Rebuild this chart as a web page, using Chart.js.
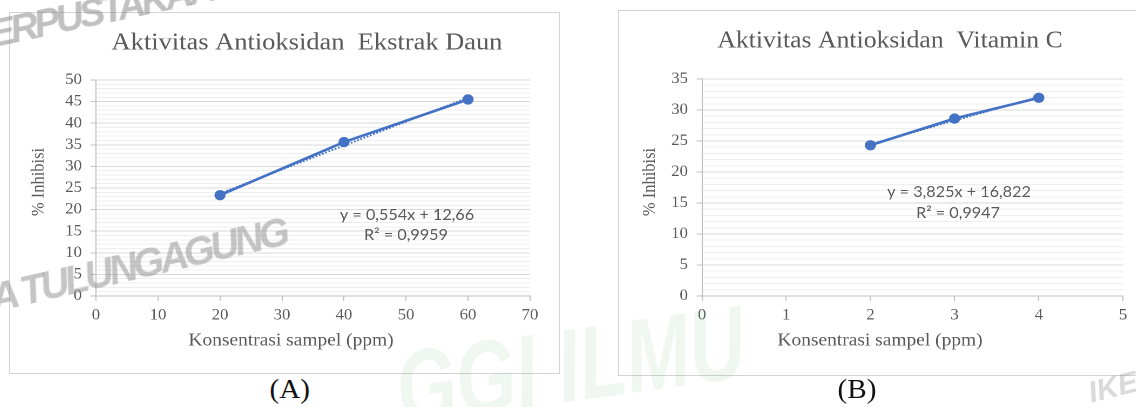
<!DOCTYPE html>
<html>
<head>
<meta charset="utf-8">
<script src="https://cdn.jsdelivr.net/npm/chart.js@4.4.1/dist/chart.umd.min.js"></script>
<style>
  html, body { margin: 0; padding: 0; background: #fff; }
  body { width: 1136px; height: 407px; overflow: hidden; position: relative; font-family: "Liberation Serif", serif; }
  .frame { position: absolute; border: 1.5px solid #d3d3d3; box-sizing: border-box; background: #fff; }
  canvas.plot { position: absolute; transform-origin: 0 0; }
  .caption { position: absolute; font-family: "Liberation Serif", serif; font-size: 27px; color: #111; transform-origin: 50% 50%; white-space: nowrap; }
  .mark { position: absolute; white-space: nowrap; pointer-events: none; font-family: "Liberation Sans", sans-serif; font-weight: bold; font-style: italic; }
</style>
</head>
<body>
<div class="frame" style="left:9px; top:12px; width:551px; height:362px;"></div>
<div class="frame" style="left:618px; top:10px; width:540px; height:366px;"></div>
<canvas id="chartDaun" class="plot"></canvas>
<canvas id="chartVitC" class="plot"></canvas>
<div class="caption" id="capA">(A)</div>
<div class="caption" id="capB">(B)</div>

<div class="mark" style="left:-28px; top:17px; font-size:39px; letter-spacing:-4px; color:rgba(140,140,140,0.55); transform:rotate(-12deg); transform-origin:0 100%;">PERPUSTAKAAN</div>
<div class="mark" style="left:-4px; top:276px; font-size:40px; letter-spacing:-4px; color:rgba(140,140,140,0.5); transform:rotate(-13deg); transform-origin:0 100%;">A TULUNGAGUNG</div>
<div class="mark" style="left:405px; top:330px; font-size:104px; color:rgba(120,180,120,0.11); transform:rotate(-8deg) scaleX(0.74); transform-origin:0 100%;">GGI ILMU</div>
<div class="mark" style="left:1088px; top:370px; font-size:30px; color:rgba(150,150,150,0.35); transform:rotate(-14deg);">IKE</div>

<script>
// Horizontal stretch applied to the plotted figure
const SX = 1.08;

// Leaf extract: concentration (ppm) vs % inhibition
const konsentrasiDaun = [20, 40, 60];
const inhibisiDaun = [23.33, 35.64, 45.49];
const slopeDaun = 0.554;
const interceptDaun = 12.66;
const r2Daun = 0.9959;
const xTicksDaun = [0, 10, 20, 30, 40, 50, 60, 70];
const yTicksDaun = [0, 5, 10, 15, 20, 25, 30, 35, 40, 45, 50];

// Vitamin C: concentration (ppm) vs % inhibition
const konsentrasiVitC = [2, 3, 4];
const inhibisiVitC = [24.31, 28.62, 31.96];
const slopeVitC = 3.825;
const interceptVitC = 16.822;
const r2VitC = 0.9947;
const xTicksVitC = [0, 1, 2, 3, 4, 5];
const yTicksVitC = [0, 5, 10, 15, 20, 25, 30, 35];

const BLUE = '#4472C4';
const TEXT = '#595959';
const SERIF = '"Liberation Serif", "Times New Roman", serif';
const SANS = 'Lato, "Open Sans", sans-serif';

const comma = v => String(v).replace('.', ',');

// Free text (titles, axis titles, regression equation) placed in page coordinates
const textPlugin = {
  id: 'freeText',
  afterDraw(chart, args, opts) {
    const ctx = chart.ctx;
    const box = opts.box;
    (opts.items || []).forEach(it => {
      ctx.save();
      ctx.font = it.font;
      ctx.fillStyle = it.color || TEXT;
      ctx.textAlign = 'center';
      ctx.textBaseline = 'middle';
      ctx.translate((it.x - box.x) / SX, it.y - box.y);
      if (it.rotate) ctx.rotate(it.rotate);
      ctx.fillText(it.text, 0, 0);
      ctx.restore();
    });
  }
};

function buildChart(id, cfg) {
  const canvas = document.getElementById(id);
  const box = cfg.box, plot = cfg.plot;
  const W = Math.round(box.w / SX), H = box.h;
  canvas.width = W;
  canvas.height = H;
  canvas.style.left = box.x + 'px';
  canvas.style.top = box.y + 'px';
  canvas.style.transform = 'scaleX(' + SX + ')';

  const L = (plot.l - box.x) / SX, R = (plot.r - box.x) / SX;
  const T = plot.t - box.y, B = plot.b - box.y;

  const xs = cfg.x, ys = cfg.y;
  const xT = cfg.xTicks, yT = cfg.yTicks;
  const yMajor = yT[1] - yT[0];

  const trend = [xs[0], xs[xs.length - 1]].map(v => ({ x: v, y: cfg.slope * v + cfg.intercept }));
  const points = xs.map((v, i) => ({ x: v, y: ys[i] }));

  const tickFont = { family: SERIF, size: 15.5 };

  return new Chart(canvas.getContext('2d'), {
    type: 'scatter',
    data: {
      datasets: [
        { data: trend, showLine: true, borderColor: BLUE, borderWidth: 1.8, borderDash: [1.6, 1.6], pointRadius: 0 },
        { data: points, showLine: true, borderColor: BLUE, borderWidth: 2.6, pointRadius: 5.2,
          pointBackgroundColor: BLUE, pointBorderColor: BLUE, pointBorderWidth: 0 }
      ]
    },
    options: {
      responsive: false,
      animation: false,
      devicePixelRatio: 2,
      events: [],
      layout: { padding: { left: 0, top: T, right: W - R, bottom: 0 } },
      plugins: {
        legend: { display: false },
        tooltip: { enabled: false },
        freeText: {
          box: box,
          items: cfg.texts
        }
      },
      scales: {
        x: {
          type: 'linear',
          min: xT[0], max: xT[xT.length - 1],
          afterFit: s => { s.height = H - B; },
          ticks: { stepSize: xT[1] - xT[0], font: tickFont, color: TEXT, padding: 5, autoSkip: false, maxRotation: 0, maxTicksLimit: 1000 },
          grid: { drawOnChartArea: false, drawTicks: true, tickLength: 5, tickColor: '#bfbfbf' },
          border: { color: '#bfbfbf', width: 1 }
        },
        y: {
          type: 'linear',
          min: yT[0], max: yT[yT.length - 1],
          afterFit: s => { s.width = L; },
          ticks: {
            stepSize: 1, autoSkip: false, maxTicksLimit: 1000, font: tickFont, color: TEXT, padding: 8,
            callback: v => (yT.includes(v) ? v : '')
          },
          grid: {
            drawTicks: true, tickLength: 5,
            color: c => (c.tick && c.tick.value % yMajor === 0 ? '#d9d9d9' : '#eeeeee'),
            tickColor: c => (c.tick && c.tick.value % yMajor === 0 ? '#bfbfbf' : 'rgba(0,0,0,0)'),
            lineWidth: 1
          },
          border: { color: '#bfbfbf', width: 1 }
        }
      }
    },
    plugins: [textPlugin]
  });
}

buildChart('chartDaun', {
  box: { x: 9, y: 12, w: 550, h: 361 },
  plot: { l: 96, r: 530, t: 80, b: 296 },
  x: konsentrasiDaun, y: inhibisiDaun,
  slope: slopeDaun, intercept: interceptDaun,
  xTicks: xTicksDaun, yTicks: yTicksDaun,
  texts: [
    { text: 'Aktivitas Antioksidan  Ekstrak Daun', x: 307, y: 43, font: '24.5px ' + SERIF },
    { text: '% Inhibisi', x: 39, y: 182, font: '16.5px ' + SERIF, rotate: -Math.PI / 2 },
    { text: 'Konsentrasi sampel (ppm)', x: 291, y: 341, font: '18px ' + SERIF },
    { text: 'y = ' + comma(slopeDaun) + 'x + ' + comma(interceptDaun), x: 407, y: 215, font: '15px ' + SANS },
    { text: 'R\u00b2 = ' + comma(r2Daun), x: 406, y: 235, font: '15px ' + SANS }
  ]
});

buildChart('chartVitC', {
  box: { x: 618, y: 10, w: 540, h: 365 },
  plot: { l: 702, r: 1123, t: 79, b: 296 },
  x: konsentrasiVitC, y: inhibisiVitC,
  slope: slopeVitC, intercept: interceptVitC,
  xTicks: xTicksVitC, yTicks: yTicksVitC,
  texts: [
    { text: 'Aktivitas Antioksidan  Vitamin C', x: 890, y: 41, font: '23.8px ' + SERIF },
    { text: '% Inhibisi', x: 650, y: 182, font: '16.5px ' + SERIF, rotate: -Math.PI / 2 },
    { text: 'Konsentrasi sampel (ppm)', x: 880, y: 341, font: '18px ' + SERIF },
    { text: 'y = ' + comma(slopeVitC) + 'x + ' + comma(interceptVitC), x: 959, y: 192, font: '15px ' + SANS },
    { text: 'R\u00b2 = ' + comma(r2VitC), x: 958, y: 213, font: '15px ' + SANS }
  ]
});

// Panel captions
function placeCaption(id, cx, cy) {
  const el = document.getElementById(id);
  const w = el.offsetWidth, h = el.offsetHeight;
  el.style.left = (cx - w / 2) + 'px';
  el.style.top = (cy - h / 2) + 'px';
  el.style.transform = 'scaleX(' + SX + ')';
}
placeCaption('capA', 289, 389);
placeCaption('capB', 857, 389);
</script>
</body>
</html>
